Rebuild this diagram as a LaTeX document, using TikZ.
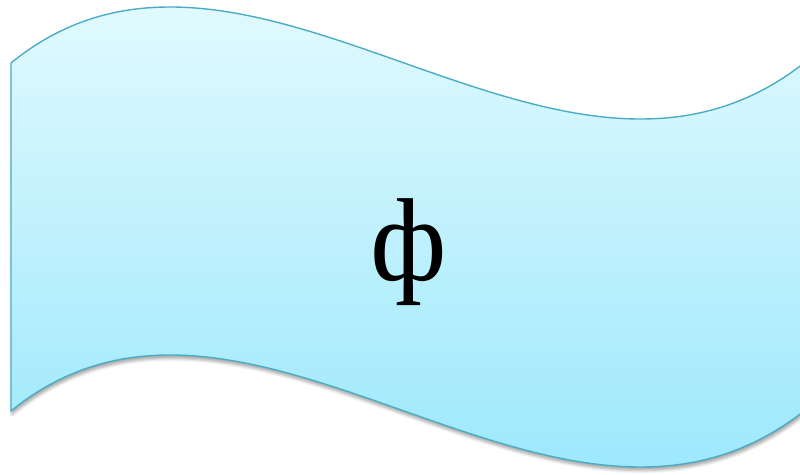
\documentclass[tikz,border=0pt]{standalone}
\usepackage{fontspec}
\setmainfont{Liberation Serif}
\usetikzlibrary{shadows.blur}
\definecolor{wavetop}{RGB}{244,255,255}
\definecolor{wavebot}{RGB}{137,227,251}
\definecolor{waveline}{RGB}{75,172,198}
\tikzset{
  wave/.style={top color=wavetop, bottom color=wavebot, draw=waveline, line width=1.4pt,
    blur shadow={shadow xshift=1pt, shadow yshift=-3.5pt, shadow blur radius=3pt, shadow opacity=35}},
  glyph/.style={inner sep=0pt, anchor=base, font=\fontsize{118}{120}\selectfont}
}
\begin{document}
\begin{tikzpicture}[x=1pt,y=-1pt]
\useasboundingbox (0,0) rectangle (800,474);
\shade[wave] (11,63) .. controls (249,-131) and (557,257) .. (804,63)
  -- (804,411) .. controls (557,605) and (249,217) .. (11,411) -- cycle;
\node[glyph] (phi) at (409,280) {ф};
\end{tikzpicture}
\end{document}
